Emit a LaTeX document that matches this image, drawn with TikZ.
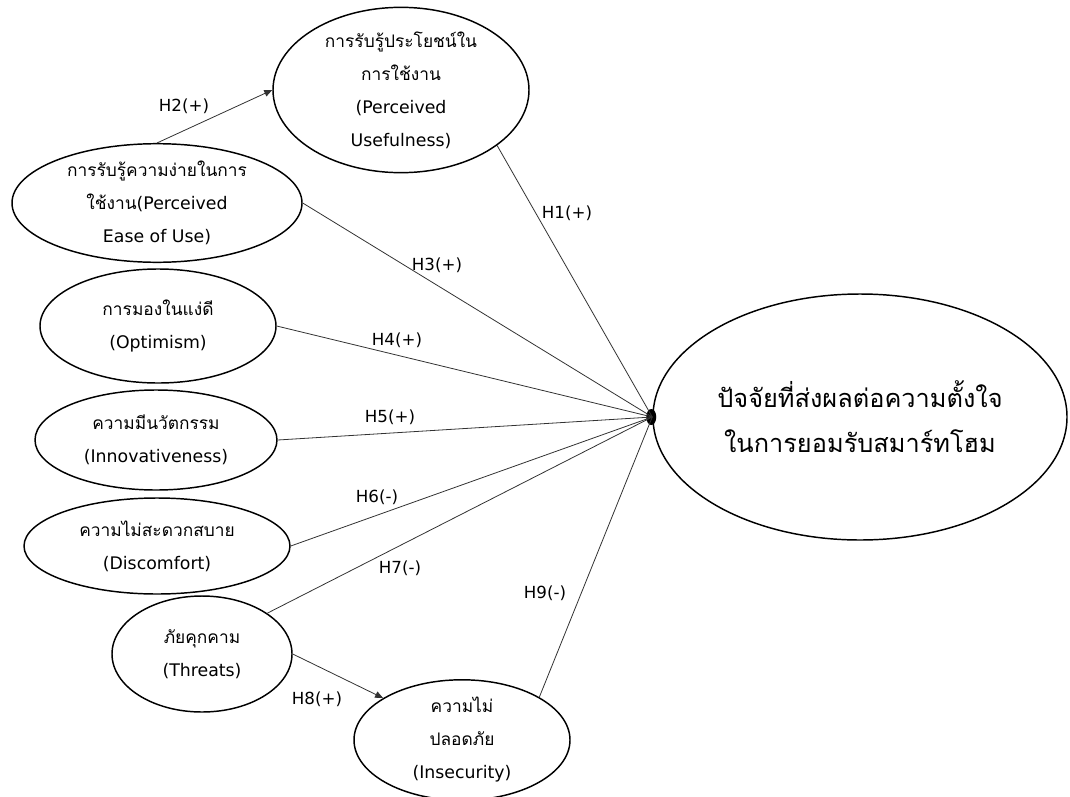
\documentclass[tikz,border=0pt]{standalone}
\usepackage{fontspec}
\usepackage{tikz}
\usetikzlibrary{shapes.geometric,arrows.meta}
\setmainfont{DejaVu Sans}
\newfontfamily\thaifont[Script=Thai]{Loma}
\newcommand{\thai}[1]{{\thaifont #1}}

\tikzset{
  var/.style={ellipse, draw, line width=1.1pt, inner sep=0pt, align=center, font=\fontsize{13}{24.75}\selectfont},
  hyp/.style={draw={rgb, 255:red, 50; green, 50; blue, 50 }, line width=0.6pt},
  hyparrow/.style={hyp, -{Triangle[length=6pt,width=5pt]}},
  lbl/.style={inner sep=0.75pt, font=\fontsize{12.5}{15}\selectfont},
}

\begin{document}
\begin{tikzpicture}[x=0.75pt,y=0.75pt,yscale=-1,xscale=1]
\useasboundingbox (0,0) rectangle (1070,796);

%Shape: Ellipse [perceived usefulness]
\node [var, minimum width=192pt, minimum height=112.5pt] (pu) at (401,90) {\thai{การรับรู้ประโยชน์ใน}\\\thai{การใช้งาน}\\(Perceived\\Usefulness)};
%Shape: Ellipse [perceived ease of use]
\node [var, minimum width=217.5pt, minimum height=82.5pt] (peou) at (157,203) {\thai{การรับรู้ความง่ายในการ}\\\thai{ใช้งาน}(Perceived\\Ease of Use)};
%Shape: Ellipse [optimism]
\node [var, minimum width=177pt, minimum height=85.5pt] (opt) at (158,326) {\thai{การมองในแง่ดี}\\(Optimism)};
%Shape: Ellipse [innovativeness]
\node [var, minimum width=181.5pt, minimum height=75pt] (inn) at (156,440) {\thai{ความมีนวัตกรรม}\\(Innovativeness)};
%Shape: Ellipse [discomfort]
\node [var, minimum width=199.5pt, minimum height=72pt] (dis) at (157,546) {\thai{ความไม่สะดวกสบาย}\\(Discomfort)};
%Shape: Ellipse [threats]
\node [var, minimum width=135pt, minimum height=87pt] (thr) at (202,654) {\thai{ภัยคุกคาม}\\(Threats)};
%Shape: Ellipse [insecurity]
\node [var, minimum width=162pt, minimum height=87pt] (ins) at (462,740) {\thai{ความไม่}\\\thai{ปลอดภัย}\\(Insecurity)};
%Shape: Ellipse [intention]
\node [var, minimum width=310.5pt, minimum height=184.5pt, font=\thaifont\fontsize{19}{33.75}\selectfont] (big) at (860,417) {ปัจจัยที่ส่งผลต่อความตั้งใจ\\ในการยอมรับสมาร์ทโฮม};

%Shape: Ellipse [hub]
\fill (big.west) ++(-1,0) ellipse [x radius=5, y radius=8];

%Straight Lines
\draw [hyparrow] (peou.north) -- (pu.west);
\draw [hyp] (pu.-30) -- (big.west);
\draw [hyp] (peou.east) -- (big.west);
\draw [hyp] (opt.east) -- (big.west);
\draw [hyp] (inn.east) -- (big.west);
\draw [hyp] (dis.east) -- (big.west);
\draw [hyp] (thr.32) -- (big.west);
\draw [hyparrow] (thr.east) -- (ins.152);
\draw [hyp] (ins.29) -- (big.west);

% Text Node
\node [lbl] (lh1) at (567,213) {H1(+)};
% Text Node
\node [lbl] (lh2) at (184,106) {H2(+)};
% Text Node
\node [lbl] (lh3) at (437,265) {H3(+)};
% Text Node
\node [lbl] (lh4) at (397,340) {H4(+)};
% Text Node
\node [lbl] (lh5) at (390,417) {H5(+)};
% Text Node
\node [lbl] (lh6) at (377,497) {H6(-)};
% Text Node
\node [lbl] (lh7) at (400,568) {H7(-)};
% Text Node
\node [lbl] (lh8) at (317,699) {H8(+)};
% Text Node
\node [lbl] (lh9) at (545,593) {H9(-)};

\end{tikzpicture}
\end{document}
